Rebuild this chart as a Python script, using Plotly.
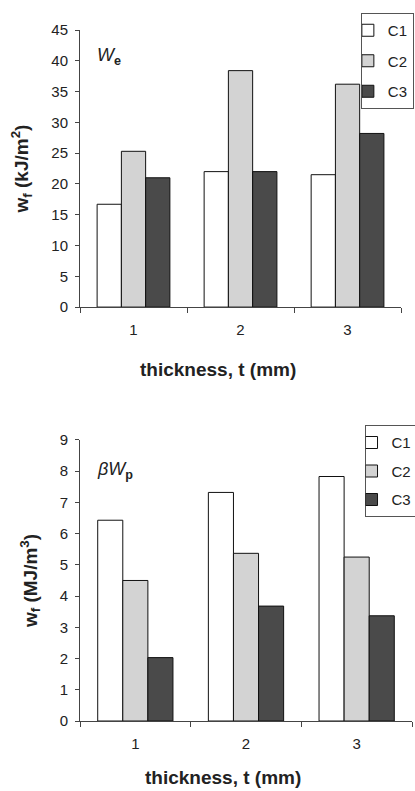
import plotly.graph_objects as go

categories = ["1", "2", "3"]
series_names = ["C1", "C2", "C3"]
colors = ["#ffffff", "#d3d3d3", "#4a4a4a"]

# top panel: W_e (kJ/m^2)
we_c1 = [16.7, 22.0, 21.5]
we_c2 = [25.3, 38.4, 36.2]
we_c3 = [21.0, 22.0, 28.2]

# bottom panel: beta*W_p (MJ/m^3)
bwp_c1 = [6.43, 7.32, 7.83]
bwp_c2 = [4.50, 5.37, 5.25]
bwp_c3 = [2.03, 3.68, 3.37]

top_vals = [we_c1, we_c2, we_c3]
bot_vals = [bwp_c1, bwp_c2, bwp_c3]

FONT = "Liberation Sans, Arial, sans-serif"
INK = "#222222"

fig = go.Figure()
for name, col, vals in zip(series_names, colors, top_vals):
    fig.add_trace(go.Bar(
        x=categories, y=vals, name=name, xaxis="x2", yaxis="y2",
        marker=dict(color=col, line=dict(color="#111111", width=1)),
        legend="legend", legendgroup="t" + name,
    ))
for name, col, vals in zip(series_names, colors, bot_vals):
    fig.add_trace(go.Bar(
        x=categories, y=vals, name=name, xaxis="x", yaxis="y",
        marker=dict(color=col, line=dict(color="#111111", width=1)),
        legend="legend2", legendgroup="b" + name,
    ))

line_style = dict(
    showline=True, linecolor="#444444", linewidth=1,
    ticks="outside", tickcolor="#444444",
    showgrid=False, zeroline=False,
    tickfont=dict(family=FONT, size=15, color=INK),
)

def ytitle(text):
    return dict(text=text, font=dict(family=FONT, size=19, color=INK), standoff=17)

fig.update_layout(
    width=415, height=791,
    margin=dict(l=80, r=3, t=30, b=70, autoexpand=False),
    paper_bgcolor="white", plot_bgcolor="white",
    barmode="group", bargap=0.32, bargroupgap=0,
    font=dict(family=FONT, color=INK),
    xaxis=dict(domain=[0, 1], anchor="y", tickson="boundaries",
               ticklen=5, ticklabelstandoff=9, **line_style),
    yaxis=dict(domain=[0, 0.4067], anchor="x", range=[0, 9], dtick=1,
               ticklen=4, ticklabelstandoff=4,
               title=ytitle("<b>w<sub>f</sub> (MJ/m<sup>3</sup>)</b>"),
               **line_style),
    xaxis2=dict(domain=[0, 0.967], anchor="y2", tickson="boundaries",
                ticklen=5, ticklabelstandoff=9, **line_style),
    yaxis2=dict(domain=[0.599, 1], anchor="x2", range=[0, 45], dtick=5,
                ticklen=4, ticklabelstandoff=4,
                title=ytitle("<b>w<sub>f</sub> (kJ/m<sup>2</sup>)</b>"),
                **line_style),
    legend=dict(x=0.846, y=1.0246, xanchor="left", yanchor="top",
                bgcolor="white", bordercolor="#555555", borderwidth=1,
                font=dict(family=FONT, size=15, color=INK),
                tracegroupgap=8, itemwidth=30, indentation=-14),
    legend2=dict(x=0.857, y=0.428, xanchor="left", yanchor="top",
                 bgcolor="white", bordercolor="#555555", borderwidth=1,
                 font=dict(family=FONT, size=15, color=INK),
                 tracegroupgap=6, itemwidth=30, indentation=-14),
    annotations=[
        dict(text="<i>W</i><sub><b>e</b></sub>", xref="paper", yref="paper",
             x=0.045, y=0.961, xanchor="left", yanchor="middle", showarrow=False,
             font=dict(family=FONT, size=18, color=INK)),
        dict(text="<i>βW</i><sub><b>p</b></sub>", xref="paper", yref="paper",
             x=0.045, y=0.3618, xanchor="left", yanchor="middle", showarrow=False,
             font=dict(family=FONT, size=18, color=INK)),
        dict(text="<b>thickness, t (mm)</b>", xref="paper", yref="paper",
             x=0.4157, y=0.5094, xanchor="center", yanchor="middle", showarrow=False,
             font=dict(family=FONT, size=19, color=INK)),
        dict(text="<b>thickness, t (mm)</b>", xref="paper", yref="paper",
             x=0.4307, y=-0.0995, xanchor="center", yanchor="bottom", showarrow=False,
             font=dict(family=FONT, size=19, color=INK)),
    ],
)

fig.write_html("out.html")
